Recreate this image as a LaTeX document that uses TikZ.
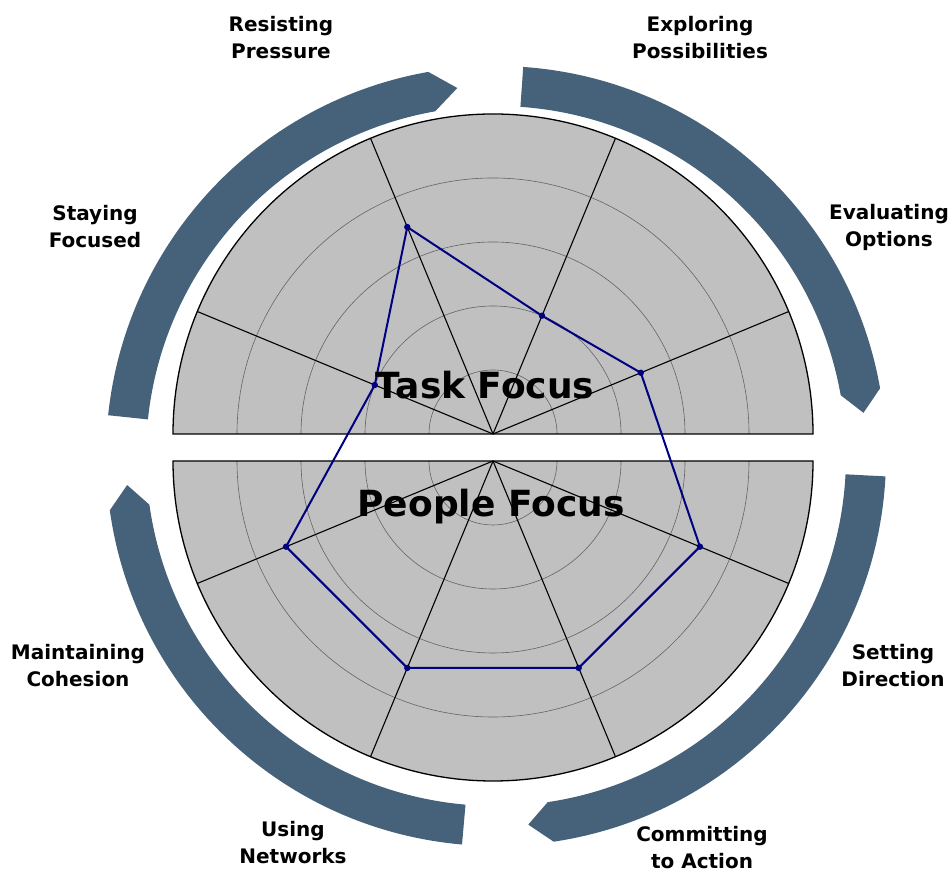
\documentclass[tikz,border=0pt]{standalone}
\usepackage{fontspec}
\setmainfont{DejaVu Sans}
\definecolor{bandblue}{RGB}{70,98,122}
\definecolor{discgray}{RGB}{192,192,192}
\definecolor{ringgray}{RGB}{100,100,100}
\definecolor{plotblue}{RGB}{0,0,128}
% band: square end, base of head, tip
\newcommand{\band}[3]{%
  \fill[bandblue] (#1:350) arc[start angle=#1,end angle=#2,radius=350] -- (#3:370) -- (#2:390) arc[start angle=#2,end angle=#1,radius=390] -- cycle;}
\tikzset{
  ring/.style={ringgray,line width=0.6pt},
  spoke/.style={black,line width=1.1pt},
  rim/.style={black,line width=1.3pt},
  plotline/.style={plotblue,line width=2pt,line join=round},
  lbl/.style={font=\fontsize{20}{27}\selectfont\bfseries,align=center},
  focus/.style={font=\fontsize{36}{40}\selectfont\bfseries}
}
\begin{document}
\begin{tikzpicture}[x=1pt,y=1pt]
  \useasboundingbox[fill=white] (0,0) rectangle (952,874);
  % arrow bands
  \begin{scope}[shift={(496,418)}]
    \band{174}{100}{96}
    \band{86}{10}{6.7}
    \band{-3}{-81.5}{-85}
    \band{265}{188}{184.5}
  \end{scope}
  % task half
  \begin{scope}[shift={(493,440)}]
    \fill[discgray] (-320,0) arc[start angle=180,end angle=0,radius=320] -- cycle;
    \foreach \r in {64,128,192,256} \draw[ring] (-\r,0) arc[start angle=180,end angle=0,radius=\r];
    \foreach \a in {22.5,67.5,112.5,157.5} \draw[spoke] (0,0) -- (\a:320);
    \draw[rim] (-320,0) arc[start angle=180,end angle=0,radius=320] -- cycle;
    \coordinate (sf) at (157.5:128);
    \coordinate (rp) at (112.5:224);
    \coordinate (ep) at (67.5:128);
    \coordinate (eo) at (22.5:160);
  \end{scope}
  % people half
  \begin{scope}[shift={(493,413)}]
    \fill[discgray] (-320,0) arc[start angle=180,end angle=360,radius=320] -- cycle;
    \foreach \r in {64,128,192,256} \draw[ring] (-\r,0) arc[start angle=180,end angle=360,radius=\r];
    \foreach \a in {-22.5,-67.5,-112.5,-157.5} \draw[spoke] (0,0) -- (\a:320);
    \draw[rim] (-320,0) arc[start angle=180,end angle=360,radius=320] -- cycle;
    \coordinate (sd) at (-22.5:224);
    \coordinate (ca) at (-67.5:224);
    \coordinate (un) at (-112.5:224);
    \coordinate (mc) at (-157.5:224);
  \end{scope}
  % profile
  \draw[plotline] (sf) -- (rp) -- (ep) -- (eo) -- (sd) -- (ca) -- (un) -- (mc) -- cycle;
  \foreach \p in {sf,rp,ep,eo,sd,ca,un,mc} \fill[plotblue] (\p) circle (3.2);
  \node[focus] (task) at (485,489) {Task Focus};
  \node[focus] (people) at (491,367) {People Focus};
  % labels
  \node[lbl] (resist) at (281,836) {Resisting\\Pressure};
  \node[lbl] (explore) at (700,836) {Exploring\\Possibilities};
  \node[lbl] (evaluate) at (889,647) {Evaluating\\Options};
  \node[lbl] (stay) at (95,647) {Staying\\Focused};
  \node[lbl] (maintain) at (78,208) {Maintaining\\Cohesion};
  \node[lbl] (setdir) at (893,208) {Setting\\Direction};
  \node[lbl] (using) at (293,31) {Using\\Networks};
  \node[lbl] (commit) at (702,26) {Committing\\to Action};
\end{tikzpicture}
\end{document}
